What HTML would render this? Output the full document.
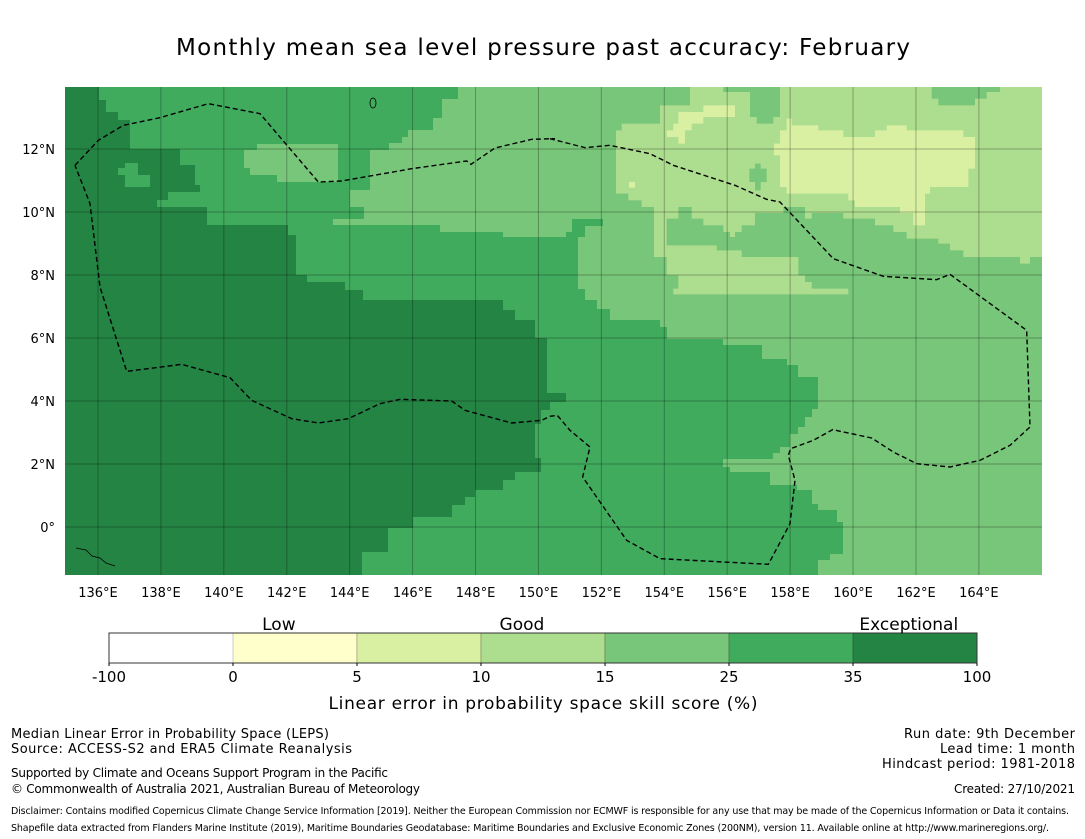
<!DOCTYPE html>
<html><head><meta charset="utf-8"><style>
html,body{margin:0;padding:0;background:#fff;}
svg{display:block;font-family:"DejaVu Sans","Liberation Sans",sans-serif;}
</style></head><body>
<svg id="root" width="1085" height="839" viewBox="0 0 1085 839">
<text x="543" y="55" text-anchor="middle" font-size="23" textLength="734">Monthly mean sea level pressure past accuracy: February</text>
<defs><clipPath id="mapclip"><rect x="65" y="87" width="977" height="488"/></clipPath></defs>
<g id="map" clip-path="url(#mapclip)"></g>
<g id="axes"></g>
<g id="cbar"></g>
<text x="543" y="709" text-anchor="middle" font-size="17" textLength="429">Linear error in probability space skill score (%)</text>
<g font-size="13">
<text x="11" y="738" textLength="318">Median Linear Error in Probability Space (LEPS)</text>
<text x="11" y="753" textLength="341">Source: ACCESS-S2 and ERA5 Climate Reanalysis</text>
<text x="11" y="777" font-size="12" textLength="377">Supported by Climate and Oceans Support Program in the Pacific</text>
<text x="11" y="793" font-size="12" textLength="409">© Commonwealth of Australia 2021, Australian Bureau of Meteorology</text>
<text x="1075" y="738" text-anchor="end" textLength="171">Run date: 9th December</text>
<text x="1075" y="753" text-anchor="end" textLength="135">Lead time: 1 month</text>
<text x="1075" y="768" text-anchor="end" textLength="193">Hindcast period: 1981-2018</text>
<text x="1075" y="793" text-anchor="end" font-size="12" textLength="121">Created: 27/10/2021</text>
<text x="11" y="814" font-size="9.5" textLength="1058">Disclaimer: Contains modified Copernicus Climate Change Service Information [2019]. Neither the European Commission nor ECMWF is responsible for any use that may be made of the Copernicus Information or Data it contains.</text>
<text x="11" y="831" font-size="9.5" textLength="1038">Shapefile data extracted from Flanders Marine Institute (2019), Maritime Boundaries Geodatabase: Maritime Boundaries and Exclusive Economic Zones (200NM), version 11. Available online at http://www.marineregions.org/.</text>
</g>
</svg>
<script>
// ---- data ----
const lonTicks = [136,138,140,142,144,146,148,150,152,154,156,158,160,162,164];
const latTicks = [0,2,4,6,8,10,12];
const cbarBounds = ["-100","0","5","10","15","25","35","100"];
const cbarColors = ["#ffffff","#ffffcc","#d9f0a3","#addd8e","#78c679","#41ab5d","#238443"];
const cbarCategories = ["Low","Good","Exceptional"];
const cbarCategoryPos = [1.37,3.33,6.45];

const NS="http://www.w3.org/2000/svg";
function mk(tag,attrs,parent){const e=document.createElementNS(NS,tag);for(const k in attrs)e.setAttribute(k,attrs[k]);parent.appendChild(e);return e;}
const xLon = lon => 98 + (lon-136)*31.46;
const yLat = lat => 527 - lat*31.5;
const map=document.getElementById('map'), axes=document.getElementById('axes'), cbar=document.getElementById('cbar');

// region outlines traced in zoom-crop coordinates
const z1 = p => [65+p[0]/3, 87+p[1]/3];
const z2 = p => [550+p[0]/3, 87+p[1]/3];
function poly(pts,fill,name){
  const e=mk('polygon',{points:pts.map(p=>p.join(',')).join(' '),fill:fill},map);
  
  
}
const bg=mk('rect',{x:65,y:87,width:977,height:488,fill:'#238443'},map);



const medium=[[65,87],[65,87],[99,87],[99,87]];
poly([[99,87],[1042,87],[1042,575],[362,575],[362,552],[388,552],[388,528],[413,528],[413,517],[452,517],[452,505],[465,505],[465,497],[475,497],[475,490],[503,490],[503,480],[515,480],[515,472],[541,472],[541,458],[535,458],[535,424],[541,424],[541,410],[550,410],[550,402],[566,402],[566,393],[547,393],[547,338],[535,338],[535,320],[515,320],[515,310],[503,310],[503,300],[363,300],[363,290],[345,290],[345,282],[307,282],[307,275],[296,275],[296,235],[288,235],[288,225],[207,225],[207,207],[157,207],[157,200],[168,200],[168,192],[200,192],[200,185],[195,185],[195,165],[180,165],[180,149],[130,149],[130,120],[118,120],[118,112],[106,112],[106,100],[99,100]],'#41ab5d','region-very-good');
poly([[125,163],[138,163],[138,175],[150,175],[150,187],[125,187],[125,175],[118,175],[118,168],[125,168]],'#41ab5d','region-very-good-island');

poly([[458,87],[1042,87],[1042,575],[818,575],[818,560],[830,560],[830,554],[843,554],[843,522],[837,522],[837,510],[818,510],[818,504],[812,504],[812,490],[797,490],[797,485],[770,485],[770,472],[730,472],[730,467],[723,467],[723,459],[773,459],[773,453],[780,453],[780,447],[790,447],[790,434],[798,434],[798,427],[805,427],[805,417],[812,417],[812,409],[818,409],[818,377],[798,377],[798,365],[787,365],[787,359],[762,359],[762,345],[723,345],[723,339],[667,339],[667,327],[660,327],[660,320],[610,320],[610,309],[597,309],[597,300],[585,300],[585,289],[578,289],[578,237],[503,237],[503,232],[440,232],[440,225],[333,225],[333,219],[364,219],[364,207],[350,207],[350,190],[370,190],[370,150],[389,150],[389,143],[402,143],[402,137],[408,137],[408,130],[433,130],[433,118],[442,118],[442,99],[458,99]],'#78c679','region-good');
poly([[257,144],[338,144],[338,182],[277,182],[277,175],[250,175],[250,168],[244,168],[244,150],[257,150]],'#78c679','region-good-patch');
poly([[572,219],[603,219],[603,226],[585,226],[585,237],[566,237],[566,232],[572,232]],'#41ab5d','region-very-good-patch');

poly([[420,0],[520,0],[520,15],[600,15],[600,90],[620,90],[620,110],[670,110],[670,90],[690,90],[690,0],[1145,0],[1145,35],[1165,35],[1165,55],[1275,55],[1275,35],[1310,35],[1310,15],[1350,15],[1350,0],[1476,0],[1476,510],[1440,510],[1440,530],[1410,530],[1410,510],[1240,510],[1240,490],[1200,490],[1200,470],[1165,470],[1165,455],[1070,455],[1070,435],[1030,435],[1030,415],[975,415],[975,395],[880,395],[880,378],[785,378],[785,395],[765,395],[765,360],[700,360],[700,378],[615,378],[615,415],[575,415],[575,435],[555,435],[555,450],[540,450],[540,435],[520,435],[520,415],[460,415],[460,395],[425,395],[425,360],[385,360],[385,378],[312,378],[312,360],[275,360],[275,340],[235,340],[235,320],[198,320],[198,130],[215,130],[215,110],[330,110],[330,55],[420,55]].map(z2),'#addd8e','region-fair');
poly([[312,378],[385,378],[385,395],[350,395],[350,475],[500,475],[500,490],[575,490],[575,510],[745,510],[745,565],[765,565],[765,585],[785,585],[785,605],[895,605],[895,622],[370,622],[370,605],[385,605],[385,565],[350,565],[350,510],[312,510]].map(z2),'#addd8e','region-fair-band');
poly([[615,230],[632,230],[632,245],[650,245],[650,285],[632,285],[632,310],[615,310],[615,285],[598,285],[598,245],[615,245]].map(z2),'#78c679','region-good-cross');

poly([[460,55],[555,55],[555,90],[460,90],[460,110],[425,110],[425,130],[405,130],[405,170],[385,170],[385,150],[350,150],[350,130],[370,130],[370,110],[385,110],[385,75],[460,75]].map(z2),'#d9f0a3','region-low-west');
poly([[710,95],[725,95],[725,115],[805,115],[805,130],[880,130],[880,150],[975,150],[975,130],[1010,130],[1010,115],[1070,115],[1070,130],[1240,130],[1240,150],[1275,150],[1275,245],[1255,245],[1255,300],[1140,300],[1140,320],[1125,320],[1125,415],[1090,415],[1090,378],[1050,378],[1050,360],[915,360],[915,340],[895,340],[895,320],[710,320],[710,300],[690,300],[690,205],[672,205],[672,170],[690,170],[690,130],[710,130]].map(z2),'#d9f0a3','region-low-east');
poly([[237,285],[255,285],[255,302],[237,302]].map(z2),'#d9f0a3','region-low-dot');

// gridlines
lonTicks.forEach(l=>{const e=mk('line',{x1:xLon(l),x2:xLon(l),y1:87,y2:575,stroke:'rgba(0,0,0,0.28)','stroke-width':1},map);

});
latTicks.forEach(l=>{const e=mk('line',{x1:65,x2:1042,y1:yLat(l),y2:yLat(l),stroke:'rgba(0,0,0,0.28)','stroke-width':1},map);

});

// EEZ boundary
const top1=[[30,235],[100,160],[175,115],[285,92],[430,50],[585,80],[760,285],[830,282],[1040,245],[1205,222],[1218,232],[1290,183],[1400,157],[1470,155]].map(z1);
const east=[[0,155],[105,182],[180,175],[300,200],[370,235],[555,295],[650,337],[690,345],[850,515],[1000,568],[1160,578],[1200,562],[1430,730],[1440,1020],[1380,1075],[1290,1120],[1200,1140],[1100,1130],[1030,1095],[965,1053],[848,1028],[790,1060],[722,1085],[715,1105],[735,1180],[720,1310],[655,1432],[330,1415],[230,1360],[98,1170],[120,1080],[60,1030],[22,985],[0,988]].map(z2);
const bot1=[[1430,1000],[1340,1008],[1200,970],[1160,942],[1005,937],[945,950],[850,995],[760,1008],[680,995],[560,940],[495,872],[350,832],[185,853],[105,600],[75,350],[30,235]].map(z1);
const eez=mk('polyline',{points:top1.concat(east,bot1).map(p=>p.join(',')).join(' '),fill:'none',stroke:'#000','stroke-width':1.4,'stroke-dasharray':'5,3'},map);


// Guam & small islands
const guam=mk('ellipse',{cx:373,cy:103,rx:3,ry:5,fill:'none',stroke:'#000','stroke-width':0.8},map);


const png=mk('polyline',{points:'76,548 86,550 92,556 100,558 106,563 115,566',fill:'none',stroke:'#000','stroke-width':0.8},map);



// axis labels
lonTicks.forEach(l=>{const t=mk('text',{x:xLon(l),y:597,'text-anchor':'middle','font-size':13},axes);t.textContent=l+'°E';

});
latTicks.forEach(l=>{const t=mk('text',{x:55,y:yLat(l)+5,'text-anchor':'end','font-size':13},axes);t.textContent=l===0?'0°':l+'°N';

});

// colorbar
const cx0=109, cw=(977-109)/cbarColors.length, cy=633, ch=30;
cbarColors.forEach((c,i)=>{const r=mk('rect',{x:cx0+i*cw,y:cy,width:cw,height:ch,fill:c,stroke:i?'rgba(0,0,0,0.2)':'none','stroke-width':1},cbar);

});
const fr=mk('rect',{x:cx0,y:cy,width:977-109,height:ch,fill:'none',stroke:'#333','stroke-width':1},cbar);


cbarBounds.forEach((b,i)=>{const x=cx0+i*cw;
mk('line',{x1:x,x2:x,y1:cy+ch,y2:cy+ch+3,stroke:'#000'},cbar);
const t=mk('text',{x:x,y:682,'text-anchor':'middle','font-size':15},cbar);t.textContent=b;

});
cbarCategories.forEach((c,i)=>{const t=mk('text',{x:cx0+cbarCategoryPos[i]*cw,y:630,'text-anchor':'middle','font-size':17},cbar);t.textContent=c;

});
</script>
</body></html>
